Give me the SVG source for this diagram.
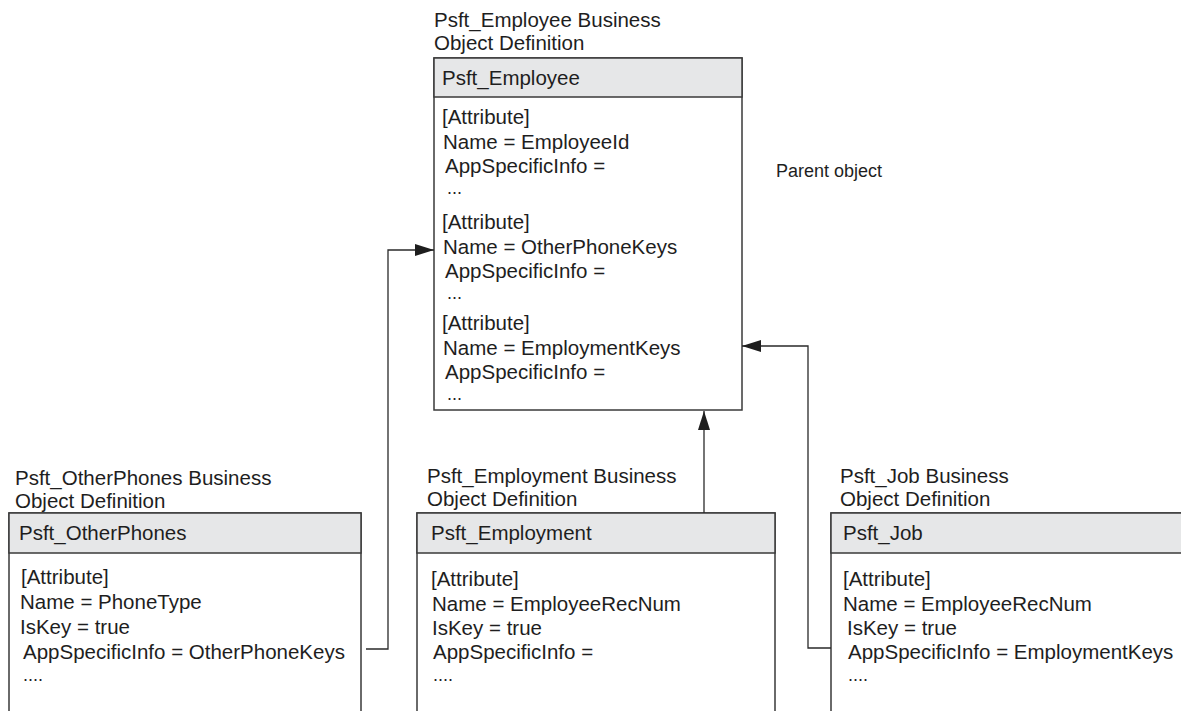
<svg xmlns="http://www.w3.org/2000/svg" width="1181" height="711" viewBox="0 0 1181 711">
<style>
text{font-family:"Liberation Sans",Arial,sans-serif;font-size:20.5px;fill:#1e1e1e}
.small{font-size:18px}
.dots{font-size:18px}
.box{fill:#fff;stroke:#3a3a3a;stroke-width:1.5}
.hdr{fill:#e6e7e8;stroke:#3a3a3a;stroke-width:1.5}
.conn{fill:none;stroke:#2a2a2a;stroke-width:1.3}
</style>
<defs>
<marker id="arr" markerUnits="userSpaceOnUse" markerWidth="20" markerHeight="14" refX="19" refY="6" orient="auto">
<path d="M0,0 L19,6 L0,12 Z" fill="#1e1e1e"/>
</marker>
</defs>
<rect width="1181" height="711" fill="#fff"/>

<g id="employee">
<text x="434" y="27">Psft_Employee Business</text>
<text x="434" y="50">Object Definition</text>
<rect class="box" x="434" y="58" width="308" height="352"/>
<rect class="hdr" x="434" y="58" width="308" height="39"/>
<text x="442" y="85">Psft_Employee</text>
<text x="442" y="124">[Attribute]</text>
<text x="443" y="149">Name = EmployeeId</text>
<text x="445" y="173">AppSpecificInfo =</text>
<text class="dots" x="447" y="194">...</text>
<text x="442" y="229">[Attribute]</text>
<text x="443" y="254">Name = OtherPhoneKeys</text>
<text x="445" y="278">AppSpecificInfo =</text>
<text class="dots" x="447" y="299">...</text>
<text x="442" y="330">[Attribute]</text>
<text x="443" y="355">Name = EmploymentKeys</text>
<text x="445" y="379">AppSpecificInfo =</text>
<text class="dots" x="447" y="400">...</text>
</g>

<g id="parent-label">
<text class="small" x="776" y="177">Parent object</text>
</g>

<g id="otherphones">
<text x="15" y="485">Psft_OtherPhones Business</text>
<text x="15" y="508">Object Definition</text>
<path class="box" d="M9,712 V513 H361 V712"/>
<rect class="hdr" x="9" y="513" width="352" height="40"/>
<text x="19" y="540">Psft_OtherPhones</text>
<text x="21" y="584">[Attribute]</text>
<text x="20" y="609">Name = PhoneType</text>
<text x="20" y="634">IsKey = true</text>
<text x="23" y="659">AppSpecificInfo = OtherPhoneKeys</text>
<text class="dots" x="23" y="681">....</text>
</g>

<g id="employment">
<text x="427" y="483">Psft_Employment Business</text>
<text x="427" y="506">Object Definition</text>
<path class="box" d="M417,712 V513 H775 V712"/>
<rect class="hdr" x="417" y="513" width="358" height="40"/>
<text x="431" y="540">Psft_Employment</text>
<text x="431" y="586">[Attribute]</text>
<text x="432" y="611">Name = EmployeeRecNum</text>
<text x="432" y="635">IsKey = true</text>
<text x="433" y="659">AppSpecificInfo =</text>
<text class="dots" x="433" y="681">....</text>
</g>

<g id="job">
<text x="840" y="483">Psft_Job Business</text>
<text x="840" y="506">Object Definition</text>
<path class="box" d="M831,712 V513 H1195 V712"/>
<rect class="hdr" x="831" y="513" width="364" height="40"/>
<text x="843" y="540">Psft_Job</text>
<text x="843" y="586">[Attribute]</text>
<text x="843" y="611">Name = EmployeeRecNum</text>
<text x="847" y="635">IsKey = true</text>
<text x="848" y="659">AppSpecificInfo = EmploymentKeys</text>
<text class="dots" x="848" y="681">....</text>
</g>

<g id="connectors">
<path class="conn" d="M366,649 H388 V250 H434" marker-end="url(#arr)"/>
<path class="conn" d="M704,513 V411" marker-end="url(#arr)"/>
<path class="conn" d="M831,648 H808 V346 H742" marker-end="url(#arr)"/>
</g>
</svg>
